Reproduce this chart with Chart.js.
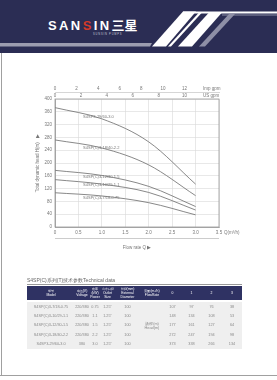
<!DOCTYPE html>
<html>
<head>
<meta charset="utf-8">
<script src="https://cdn.jsdelivr.net/npm/chart.js@4.4.0/dist/chart.umd.min.js"></script>
<style>
html, body { margin: 0; padding: 0; background: #fff; }
body { width: 277px; height: 380px; position: relative; overflow: hidden; font-family: "Liberation Sans", Arial, sans-serif; }
#banner { position: absolute; left: 0; top: 0; width: 277px; height: 53px; background: #2b2d54; }
#banner svg { position: absolute; left: 0; top: 0; }
#logo { position: absolute; left: 48px; top: 18px; color: #fff; font-weight: bold; font-size: 13px; letter-spacing: 2.4px; line-height: 13px; white-space: nowrap; }
#logo .red { color: #d23a2a; }
#logo .cn { font-family: "Noto Sans CJK SC"; letter-spacing: 0; }
#sub { position: absolute; left: 93px; top: 33px; color: #c8c8d8; font-size: 2.6px; letter-spacing: 0.8px; }
#frame-left { position: absolute; left: 1px; top: 53px; width: 1px; height: 323px; background: #a0a0a0; }
#frame-bottom { position: absolute; left: 0; top: 375px; width: 277px; height: 1px; background: #a0a0a0; }
#chart-wrap { position: absolute; left: 0; top: 80px; width: 277px; height: 170px; }
.unit { position: absolute; font-size: 4.5px; color: #777; white-space: nowrap; }
#qline { position: absolute; left: 55px; top: 238px; width: 164px; height: 1px; background: #ccc; }
#ttitle { position: absolute; left: 27px; top: 277px; width: 215px; font-size: 5px; color: #666; border-bottom: 0.6px solid #999; padding-bottom: 1px; }
#spec { position: absolute; left: 27px; top: 286px; width: 215px; border-collapse: collapse; table-layout: fixed; }
#spec th { background: #2f3263; color: #fff; font-weight: normal; font-size: 3.4px; line-height: 4px; height: 14px; padding: 0; text-align: center; }
#spec td { background: #efefef; color: #8a8a8a; font-size: 3.8px; height: 9.4px; padding: 0; text-align: center; }
#spec tr.gap td { height: 2px; background: #fff; }
</style>
</head>
<body>
<div id="banner">
  <svg width="277" height="53">
    <polygon points="0,43 152,43 150,46.5 0,46.5" fill="#9c9db0"/>
    <polygon points="152,46.5 183,11.5 196,11.5 166,46.5" fill="#ffffff"/>
    <polygon points="168,46.5 199,12.5 202,12.5 171,46.5" fill="#ffffff"/>
    <polygon points="178,46.5 209,12.5 222,12.5 192,46.5" fill="#ffffff"/>
    <polygon points="199,46.5 229,14 235,14 205,46.5" fill="#8e8fa6"/>
    <rect x="183" y="11.5" width="94" height="2" fill="#ffffff"/>
    <rect x="222" y="14.5" width="55" height="1" fill="#8e8fa6"/>
  </svg>
  <div id="logo">SAN<span class="red">S</span>IN<span class="cn">三星</span></div>
  <div id="sub">SUNSIN PUMPS</div>
</div>
<div id="frame-left"></div>
<div id="frame-bottom"></div>

<div id="chart-wrap"><canvas id="pump-chart" width="277" height="170"></canvas></div>
<div class="unit" style="left:203px;top:86px;">Imp gpm</div>
<div class="unit" style="left:203px;top:93px;">US gpm</div>
<div class="unit" style="left:224px;top:230px;">Q(m³/h)</div>
<div id="qline"></div>

<div id="ttitle">S4SP(C)系列(T)技术参数Technical data</div>
<table id="spec"></table>

<script>
// Flow rate points (m3/h) and head (m) for each pump
const flowRate = [0, 1, 2, 3];
const models = ['S4SP3-29/60-3.0', 'S4SP(C)3-18/40-2.2', 'S4SP(C)3-12/30-1.5', 'S4SP(C)3-10/29-1.1', 'S4SP(C)3-7/18-0.75'];
const head30 = [373, 338, 266, 134];
const head22 = [272, 247, 194, 98];
const head15 = [177, 161, 127, 64];
const head11 = [148, 134, 108, 53];
const head075 = [107, 97, 76, 38];

// Table columns
const voltage = ['380', '220/380', '220/380', '220/380', '220/380'];
const power = ['3.0', '2.2', '1.5', '1.1', '0.75'];
const outletSize = ['1.25"', '1.25"', '1.25"', '1.25"', '1.25"'];
const diameter = ['100', '100', '100', '100', '100'];

// Axis ticks
const impMax = 12;
const usMax = 10;

const heads = [head30, head22, head15, head11, head075];

function buildTable() {
    const table = document.getElementById('spec');
    const widths = [48, 14, 12, 13, 27, 22, 19, 19, 21, 20];
    let html = '<colgroup>' + widths.map(w => `<col style="width:${w}px">`).join('') + '</colgroup>';
    html += `<tr><th>型号<br>Model</th><th>电压(V)<br>Voltage</th><th>功率(kW)<br>Power</th>
        <th>出水口径<br>Outlet Size</th><th>外径(mm)<br>External Diameter</th><th>流量(m³/h)<br>FlowRate</th>` +
        flowRate.map(q => `<th>${q}</th>`).join('') + '</tr>';
    html += '<tr class="gap"><td colspan="10"></td></tr>';
    // table lists pumps smallest first
    const order = [4, 3, 2, 1, 0];
    order.forEach((i, r) => {
        html += `<tr><td>${models[i]}</td><td>${voltage[i]}</td><td>${power[i]}</td><td>${outletSize[i]}</td><td>${diameter[i]}</td>`;
        if (r === 0) html += `<td rowspan="5">扬程(m)<br>Head(m)</td>`;
        html += heads[i].map(h => `<td>${h}</td>`).join('') + '</tr>';
    });
    table.innerHTML = html;
}

const curveLabels = {
    id: 'curveLabels',
    afterDatasetsDraw(chart) {
        const { ctx, chartArea: a, scales: { x, y } } = chart;
        ctx.save();
        ctx.strokeStyle = '#9a9a9a';
        ctx.lineWidth = 0.8;
        ctx.strokeRect(a.left, a.top, a.width, a.height);
        ctx.font = '4px "Liberation Sans"';
        ctx.fillStyle = '#777';
        ctx.textBaseline = 'middle';
        const q = 0.6;
        chart.data.datasets.forEach(ds => {
            const v = ds.data[0].y + (ds.data[1].y - ds.data[0].y) * q;
            ctx.fillText(ds.label, x.getPixelForValue(q), y.getPixelForValue(v) + 3);
        });
        ctx.restore();
    }
};

function drawChart() {
    const ctx = document.getElementById('pump-chart').getContext('2d');
    const tickFont = { size: 4.5, family: '"Liberation Sans"' };

    new Chart(ctx, {
        type: 'line',
        data: {
            datasets: models.map((m, i) => ({
                label: m,
                data: flowRate.map((q, j) => ({ x: q, y: heads[i][j] })),
                borderColor: '#6a6a6a',
                borderWidth: 0.8,
                pointRadius: 0,
                fill: false,
                cubicInterpolationMode: 'monotone'
            }))
        },
        options: {
            responsive: false,
            animation: false,
            layout: { padding: { left: 35, right: 58, top: 0, bottom: 0 } },
            plugins: { legend: { display: false }, tooltip: { enabled: false } },
            scales: {
                x: {
                    type: 'linear', position: 'bottom', min: 0, max: 3.5,
                    ticks: { stepSize: 0.5, font: tickFont, color: '#777', padding: 3, maxRotation: 0, autoSkip: false },
                    grid: { color: '#d8d8d8', lineWidth: 0.6, drawTicks: false },
                    border: { color: '#9a9a9a', width: 0.8 },
                    title: { display: true, text: 'Flow rate Q \u25B6', font: tickFont, color: '#777', padding: { top: 4, bottom: 0 } },
                    afterFit: s => { s.height = 23; }
                },
                imp: {
                    type: 'linear', position: 'top', weight: 2, min: 0, max: 15.2,
                    ticks: { stepSize: 2, font: tickFont, color: '#777', padding: 1, maxRotation: 0, autoSkip: false,
                        callback: v => (v <= impMax ? v : '') },
                    grid: { display: false, drawTicks: false },
                    border: { display: true, color: '#bbb', width: 0.6 },
                    afterFit: s => { s.height = 12; }
                },
                us: {
                    type: 'linear', position: 'top', weight: 1, min: 0, max: 12.66,
                    ticks: { stepSize: 2, font: tickFont, color: '#777', padding: 1, maxRotation: 0, autoSkip: false,
                        callback: v => (v <= usMax ? v : '') },
                    grid: { display: false, drawTicks: false },
                    border: { display: false },
                    afterFit: s => { s.height = 7; }
                },
                y: {
                    min: 0, max: 400,
                    ticks: { stepSize: 40, font: tickFont, color: '#777', padding: 3 },
                    grid: { color: '#d8d8d8', lineWidth: 0.6, drawTicks: false },
                    border: { color: '#9a9a9a', width: 0.8 },
                    title: { display: true, text: 'Total dynamic head H(m)\u2003\u25B6', font: tickFont, color: '#777', padding: 0 },
                    afterFit: s => { s.width = 20; }
                }
            }
        },
        plugins: [curveLabels]
    });
}

document.addEventListener('DOMContentLoaded', function() {
    buildTable();
    drawChart();
});
</script>
</body>
</html>
